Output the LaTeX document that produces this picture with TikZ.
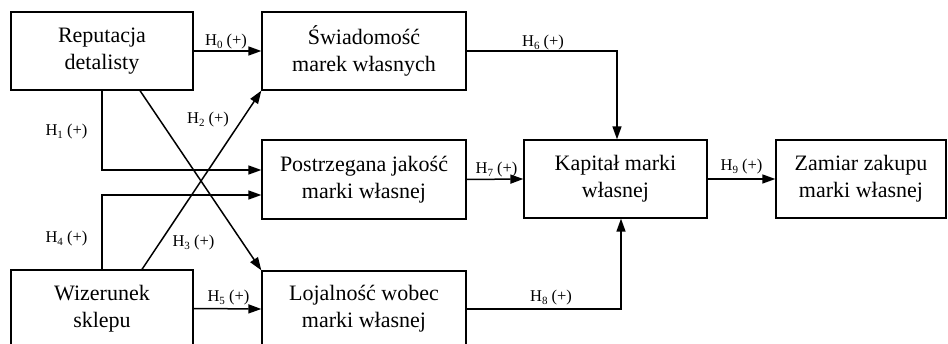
\documentclass[tikz,border=0pt]{standalone}
\usepackage{fontspec}
\setmainfont{Liberation Serif}
\usetikzlibrary{arrows.meta,calc}
\newcommand{\hyp}[1]{H\raisebox{-0.3ex}{\fontsize{11}{11}\selectfont #1}\ (+)}
\begin{document}
\begin{tikzpicture}[x=1pt,y=-1pt,
  box/.style={draw, line width=1.3pt, rectangle, inner sep=0pt, align=center,
    font=\fontsize{22}{27}\selectfont},
  conn/.style={line width=1.5pt, -{Triangle[length=13pt,width=9pt]}},
  lbl/.style={font=\fontsize{16.5}{16.5}\selectfont, inner sep=0pt}]
\useasboundingbox (0,0) rectangle (948,344);
\node[box, minimum width=182pt, minimum height=78pt] (rep) at (102,51) {Reputacja\\detalisty};
\node[box, minimum width=204pt, minimum height=78pt] (swi) at (364,51) {Świadomość\\marek własnych};
\node[box, minimum width=204pt, minimum height=79pt] (pos) at (364,179.5) {Postrzegana jakość\\marki własnej};
\node[box, minimum width=204pt, minimum height=76pt] (loj) at (364,309) {Lojalność wobec\\marki własnej};
\node[box, minimum width=182pt, minimum height=77pt] (wiz) at (102,308.5) {Wizerunek\\sklepu};
\node[box, minimum width=183pt, minimum height=78pt] (kap) at (615.5,179) {Kapitał marki\\własnej};
\node[box, minimum width=170pt, minimum height=78pt] (zam) at (861,179) {Zamiar zakupu\\marki własnej};

\draw[conn] (rep.east) -- (swi.west);
\draw[conn] (rep.south) |- ([yshift=9.5pt]pos.west);
\draw[conn] ([xshift=40pt]wiz.north) -- (swi.south west);
\draw[conn] ([xshift=38pt]rep.south) -- (loj.north west);
\draw[conn] (wiz.north) |- ([yshift=-15.5pt]pos.west);
\draw[conn] (wiz.east) -- (loj.west);
\draw[conn] (swi.east) -| ([xshift=1.5pt]kap.north);
\draw[conn] (pos.east) -- (kap.west);
\draw[conn] (loj.east) -| ([xshift=5.5pt]kap.south);
\draw[conn] (kap.east) -- (zam.west);

\node[lbl] (l0) at (226,42) {\hyp{0}};
\node[lbl] (l1) at (66.5,132) {\hyp{1}};
\node[lbl] (l2) at (208,120) {\hyp{2}};
\node[lbl] (l3) at (193.5,243) {\hyp{3}};
\node[lbl] (l4) at (66.5,239) {\hyp{4}};
\node[lbl] (l5) at (228.5,298) {\hyp{5}};
\node[lbl] (l6) at (543,43) {\hyp{6}};
\node[lbl] (l7) at (496.5,170) {\hyp{7}};
\node[lbl] (l8) at (551,298) {\hyp{8}};
\node[lbl] (l9) at (741.5,167) {\hyp{9}};
\end{tikzpicture}
\end{document}
